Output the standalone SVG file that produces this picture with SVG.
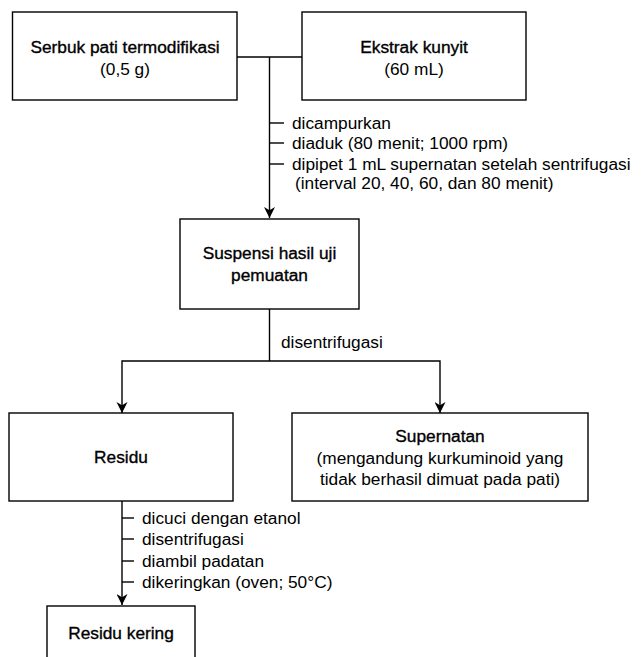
<svg xmlns="http://www.w3.org/2000/svg" width="641" height="657" viewBox="0 0 641 657">
<defs>
<marker id="arr" viewBox="0 0 10 10" refX="10" refY="5" markerWidth="11" markerHeight="11" markerUnits="userSpaceOnUse" orient="auto">
<path d="M0,0 L10,5 L0,10 L3,5 Z" fill="#000"/>
</marker>
<style>
.box{fill:#fff;stroke:#000;stroke-width:1.4}
.ln{fill:none;stroke:#000;stroke-width:1.4}
.t{font-family:"Liberation Sans",Arial,sans-serif;font-size:17.3px;fill:#000}
.b{stroke:#000;stroke-width:0.35}
.c{text-anchor:middle}
</style>
</defs>
<rect width="641" height="657" fill="#fff"/>
<g id="connectors">
<line class="ln" x1="237" y1="57" x2="302" y2="57"/>
<line class="ln" x1="269.5" y1="57" x2="269.5" y2="218" marker-end="url(#arr)"/>
<line class="ln" x1="269.5" y1="123" x2="284" y2="123"/>
<line class="ln" x1="269.5" y1="143" x2="284" y2="143"/>
<line class="ln" x1="269.5" y1="164" x2="284" y2="164"/>
<text class="t" x="292" y="129">dicampurkan</text>
<text class="t" x="292" y="149">diaduk (80 menit; 1000 rpm)</text>
<text class="t" x="292" y="170">dipipet 1 mL supernatan setelah sentrifugasi</text>
<text class="t" x="295" y="189">(interval 20, 40, 60, dan 80 menit)</text>
<polyline class="ln" points="269.5,309 269.5,361"/>
<polyline class="ln" points="122,413 122,361 440,361 440,413" marker-end="url(#arr)"/>
<path d="M116.5,402 L122,413 L127.5,402 L122,405.3 Z" fill="#000"/>
<text class="t" x="281" y="348">disentrifugasi</text>
<line class="ln" x1="122" y1="501" x2="122" y2="605" marker-end="url(#arr)"/>
<line class="ln" x1="122" y1="518" x2="134" y2="518"/>
<line class="ln" x1="122" y1="539" x2="134" y2="539"/>
<line class="ln" x1="122" y1="561" x2="134" y2="561"/>
<line class="ln" x1="122" y1="582" x2="134" y2="582"/>
<text class="t" x="142" y="524">dicuci dengan etanol</text>
<text class="t" x="142" y="545">disentrifugasi</text>
<text class="t" x="142" y="567">diambil padatan</text>
<text class="t" x="142" y="588">dikeringkan (oven; 50°C)</text>
</g>
<g id="serbuk">
<rect class="box" x="12.5" y="12" width="224.5" height="88"/>
<text class="t b c" x="125" y="53">Serbuk pati termodifikasi</text>
<text class="t c" x="125" y="75">(0,5 g)</text>
</g>
<g id="ekstrak">
<rect class="box" x="302" y="12" width="224" height="88"/>
<text class="t b c" x="414" y="53">Ekstrak kunyit</text>
<text class="t c" x="414" y="75">(60 mL)</text>
</g>
<g id="suspensi">
<rect class="box" x="180" y="219" width="179" height="90"/>
<text class="t b c" x="269.5" y="259">Suspensi hasil uji</text>
<text class="t b c" x="269.5" y="281">pemuatan</text>
</g>
<g id="residu">
<rect class="box" x="9" y="413" width="224" height="88"/>
<text class="t b c" x="121" y="463">Residu</text>
</g>
<g id="supernatan">
<rect class="box" x="292" y="413" width="296" height="88"/>
<text class="t b c" x="440" y="442">Supernatan</text>
<text class="t c" x="440" y="464">(mengandung kurkuminoid yang</text>
<text class="t c" x="440" y="485">tidak berhasil dimuat pada pati)</text>
</g>
<g id="residu-kering">
<rect class="box" x="47" y="606" width="148" height="70"/>
<text class="t b c" x="121" y="639">Residu kering</text>
</g>
</svg>
